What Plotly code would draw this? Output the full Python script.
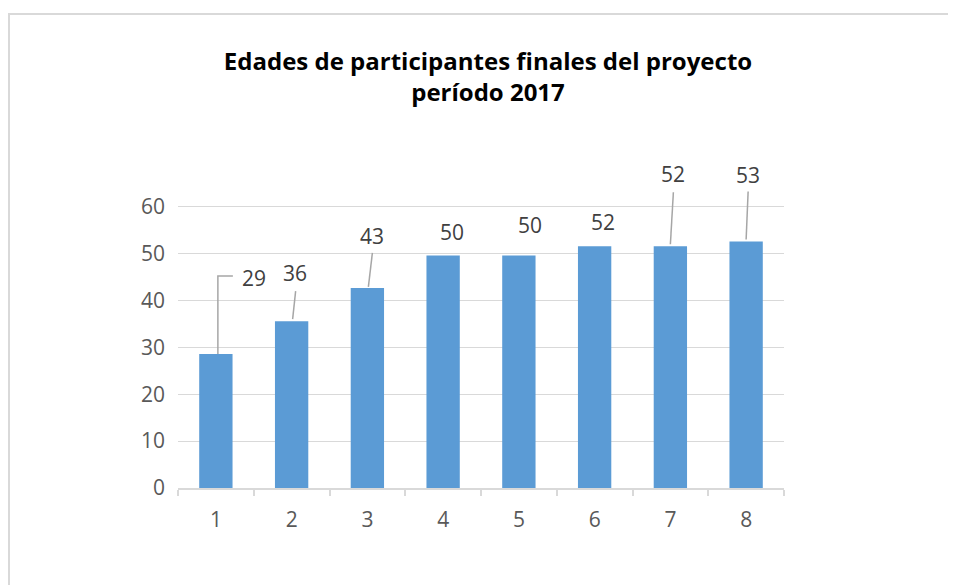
import plotly.graph_objects as go

# data
participantes = [1, 2, 3, 4, 5, 6, 7, 8]
edades = [28.6, 35.6, 42.7, 49.6, 49.6, 51.6, 51.6, 52.6]
y_ticks = [0, 10, 20, 30, 40, 50, 60]
titulo = "Edades de participantes finales del proyecto<br>período 2017"

# where Excel moved the data labels (px right, px up from the bar top)
label_shift = [(38, 76), (3, 48), (5, 52), (9, 24), (11, 31), (8, 24), (3, 72), (2, 67)]
# leader lines in px from the bar top, None where there is none
leaders = ["M2,0 L2,78 L17,78", "M1,2 L4,30", "M1,1 L5,35", None, None, None,
           "M0,2 L3,54", "M0,2 L2,50"]

W, H = 956, 585
# the page body adds an 8px offset, so everything is placed 8px up/left
L, R, T, B = 170, 180, 152, 105
GRID = "#d9d9d9"
BLUE = "#5b9bd5"
FONT = "Open Sans"

fig = go.Figure()
fig.add_trace(go.Bar(
    x=participantes, y=edades, width=0.44,
    marker=dict(color=BLUE, line=dict(width=0)),
    hoverinfo="x+y",
))

for x, y, (dx, dy), path in zip(participantes, edades, label_shift, leaders):
    fig.add_annotation(
        x=x, y=y, xref="x", yref="y", text=f"{y:.0f}", showarrow=False,
        xshift=dx, yshift=dy, xanchor="center", yanchor="middle",
        font=dict(family=FONT, size=21, color="#404040"),
    )
    if path:
        fig.add_shape(
            type="path", xref="x", yref="y", xsizemode="pixel", ysizemode="pixel",
            xanchor=x, yanchor=y, path=path,
            line=dict(color="#a6a6a6", width=1.5),
        )

# chart border (Excel chart area)
pw, ph = W - L - R, H - T - B
fig.add_shape(
    type="rect", xref="paper", yref="paper", layer="below",
    x0=(1 - L) / pw, x1=(W + 10 - L) / pw,
    y0=-(H + 10 - (H - B)) / ph, y1=((H - B) - 6) / ph,
    line=dict(color=GRID, width=2), fillcolor="rgba(0,0,0,0)",
)

fig.update_layout(
    width=W, height=H,
    margin=dict(l=L, r=R, t=T, b=B),
    paper_bgcolor="white", plot_bgcolor="white",
    showlegend=False,
    title=dict(
        text=f"<b>{titulo}</b>", x=480 / W, xanchor="center",
        y=1 - 62 / H, yanchor="middle", xref="container", yref="container",
        font=dict(family=FONT, size=24, color="#000000"),
    ),
    xaxis=dict(
        range=[0.5, 8.5], tickvals=participantes, ticks="",
        showgrid=False, zeroline=False,
        showline=True, linecolor=GRID, linewidth=1.5,
        minor=dict(tick0=0.5, dtick=1, ticks="outside", ticklen=6,
                   tickcolor=GRID, tickwidth=1.5, showgrid=False),
        tickfont=dict(family=FONT, size=21, color="#595959"),
        ticklabelstandoff=12,
    ),
    yaxis=dict(
        range=[0, 70], tickvals=y_ticks, ticks="",
        showgrid=True, gridcolor=GRID, gridwidth=1.3,
        zeroline=False, showline=False,
        tickfont=dict(family=FONT, size=21, color="#595959"),
        ticklabelstandoff=12,
    ),
)

fig.write_html("out.html")
